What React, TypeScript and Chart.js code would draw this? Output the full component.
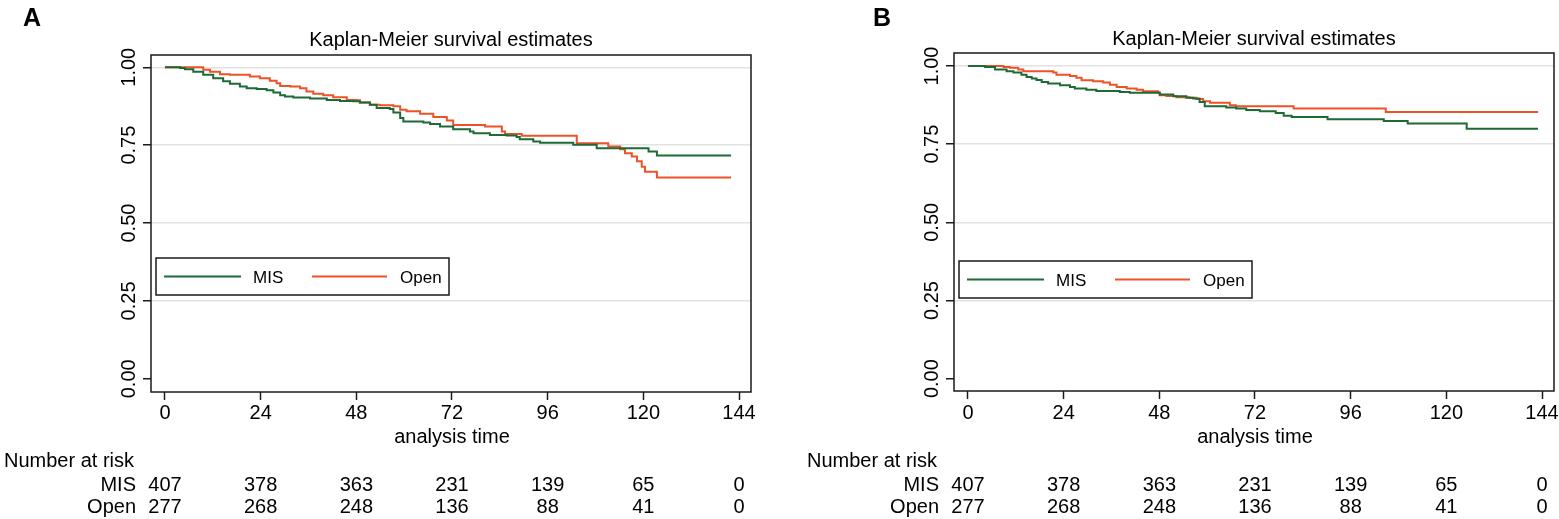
import React, { useEffect, useRef } from 'react';
import { Chart, registerables } from 'chart.js';

Chart.register(...registerables);

const FONT = '"Liberation Sans", Arial, Helvetica, sans-serif';
const MIS_COLOR = '#1d6a36';
const OPEN_COLOR = '#ed5229';

const xTicks = [0, 24, 48, 72, 96, 120, 144];
const yTicks = [0, 0.25, 0.5, 0.75, 1];
const groups = ['MIS', 'Open'];
const riskMis = [407, 378, 363, 231, 139, 65, 0];
const riskOpen = [277, 268, 248, 136, 88, 41, 0];

// panel A
const misTimeA = [0, 3.8, 5, 7.1, 9.6, 12.1, 14.6, 16.3, 18.8, 20.5, 23, 25.5, 27.2, 28.9, 30.1, 32.2, 36.4, 40.6, 43.9, 47.2, 48.9, 51.4, 53.1, 56.4, 57.3, 59, 59.8, 64.8, 66.5, 69, 72.3, 76.5, 77.4, 81.5, 85.7, 88.2, 89, 92.4, 94.1, 102.4, 108.3, 121.3, 123.4, 142];
const misSurvA = [1, 0.998, 0.994, 0.986, 0.976, 0.965, 0.955, 0.947, 0.938, 0.933, 0.93, 0.926, 0.919, 0.91, 0.906, 0.903, 0.9, 0.895, 0.892, 0.891, 0.887, 0.88, 0.869, 0.866, 0.855, 0.837, 0.826, 0.823, 0.818, 0.81, 0.801, 0.794, 0.788, 0.783, 0.781, 0.776, 0.769, 0.762, 0.758, 0.751, 0.74, 0.73, 0.717, 0.717];
const openTimeA = [0, 9.6, 11.3, 13.8, 16.3, 21.3, 23.8, 26.3, 28, 28.9, 31.4, 33.9, 35.5, 37.2, 39.7, 42.2, 45.6, 48.1, 48.9, 51.4, 53.9, 57.3, 59, 60.6, 64, 67.3, 70.7, 72.3, 80.3, 84.5, 85.3, 89.5, 103.3, 111.2, 114.2, 115.4, 117.1, 118.4, 119.6, 120.4, 123.4, 142];
const openSurvA = [1, 0.992, 0.986, 0.978, 0.976, 0.97, 0.965, 0.957, 0.949, 0.94, 0.938, 0.933, 0.922, 0.915, 0.91, 0.904, 0.895, 0.894, 0.887, 0.88, 0.878, 0.875, 0.864, 0.859, 0.851, 0.84, 0.829, 0.815, 0.81, 0.794, 0.786, 0.78, 0.756, 0.746, 0.737, 0.724, 0.714, 0.698, 0.681, 0.665, 0.646, 0.646];

// panel B
const misTimeB = [0, 4.3, 6.8, 9.7, 11.4, 13.4, 14.7, 16, 17.2, 18.5, 20.1, 23.1, 25.6, 26.8, 29.7, 32.2, 38.1, 40.6, 48.1, 51.5, 54.8, 56.5, 58.1, 59.4, 64.8, 67.3, 69.8, 73.2, 77.2, 79.2, 81.2, 90.2, 104.3, 110.3, 125.1, 143];
const misSurvB = [1, 0.997, 0.989, 0.983, 0.979, 0.972, 0.965, 0.96, 0.955, 0.949, 0.944, 0.938, 0.933, 0.928, 0.924, 0.92, 0.917, 0.914, 0.909, 0.903, 0.898, 0.896, 0.885, 0.871, 0.867, 0.864, 0.859, 0.855, 0.85, 0.841, 0.837, 0.83, 0.824, 0.816, 0.799, 0.799];
const openTimeB = [0, 8.9, 10.5, 12.6, 13.9, 21.4, 22.2, 25.6, 27.2, 28.5, 31.4, 33.9, 35.6, 37.3, 39.8, 42.3, 43.9, 47.7, 48.1, 49.8, 52.3, 55.6, 57.3, 59, 60.7, 65.7, 67.2, 81.7, 104.8, 143];
const openSurvB = [1, 0.997, 0.994, 0.989, 0.983, 0.979, 0.972, 0.968, 0.962, 0.954, 0.951, 0.947, 0.94, 0.933, 0.928, 0.924, 0.919, 0.915, 0.906, 0.904, 0.9, 0.898, 0.894, 0.887, 0.882, 0.874, 0.871, 0.864, 0.853, 0.853];

interface PanelProps {
    letter: string;
    left: number;
    width: number;
    letterX: number;
    plotTop: number;
    plotBottom: number;
    yMin: number;
    yMax: number;
    titleBase: number;
    legendTop: number;
    misTime: number[];
    misSurv: number[];
    openTime: number[];
    openSurv: number[];
}

const H = 519;
const PLOT_LEFT = 151;
const PLOT_RIGHT = 751;
const Y_AXIS_W = 50;
const X_AXIS_H = 60;

const KMPanel: React.FC<PanelProps> = (p) => {
    const canvasRef = useRef<HTMLCanvasElement>(null);

    useEffect(() => {
        const ctx = canvasRef.current?.getContext('2d');
        if (!ctx) return;

        const overlay = {
            id: 'kmOverlay',
            afterDraw(chart: Chart) {
                const c = chart.ctx;
                const a = chart.chartArea;
                const xs = chart.scales.x;
                const ys = chart.scales.y;
                const mid = (a.left + a.right) / 2;
                c.save();
                c.strokeStyle = '#1a1a1a';
                c.lineWidth = 1.5;
                c.strokeRect(a.left, a.top, a.right - a.left, a.bottom - a.top);

                c.fillStyle = '#000';
                c.textBaseline = 'alphabetic';
                c.font = `bold 25px ${FONT}`;
                c.textAlign = 'left';
                c.fillText(p.letter, p.letterX, 25.5);

                c.font = `20px ${FONT}`;
                c.textAlign = 'center';
                c.fillText('Kaplan-Meier survival estimates', mid, p.titleBase);

                yTicks.forEach((v) => {
                    c.save();
                    c.translate(135, ys.getPixelForValue(v));
                    c.rotate(-Math.PI / 2);
                    c.fillText(v.toFixed(2), 0, 0);
                    c.restore();
                });
                xTicks.forEach((v) => c.fillText(String(v), xs.getPixelForValue(v), 418.5));
                c.fillText('analysis time', mid + 1, 443);

                c.textAlign = 'left';
                c.fillText('Number at risk', 4, 466.5);
                c.textAlign = 'right';
                c.fillText(groups[0], 136, 491);
                c.fillText(groups[1], 136, 512.5);
                c.textAlign = 'center';
                xTicks.forEach((v, i) => {
                    const px = xs.getPixelForValue(v);
                    c.fillText(String(riskMis[i]), px, 491);
                    c.fillText(String(riskOpen[i]), px, 512.5);
                });

                // legend box inside the plot
                const lx = a.left + 5;
                const ly = p.legendTop;
                c.lineWidth = 1.5;
                c.strokeStyle = '#1a1a1a';
                c.strokeRect(lx, ly, 293, 37);
                const lineY = ly + 18.5;
                c.lineWidth = 2;
                c.strokeStyle = MIS_COLOR;
                c.beginPath();
                c.moveTo(lx + 8, lineY);
                c.lineTo(lx + 85, lineY);
                c.stroke();
                c.strokeStyle = OPEN_COLOR;
                c.beginPath();
                c.moveTo(lx + 156, lineY);
                c.lineTo(lx + 231, lineY);
                c.stroke();
                c.font = `17px ${FONT}`;
                c.textAlign = 'left';
                c.fillText(groups[0], lx + 97, ly + 25);
                c.fillText(groups[1], lx + 244, ly + 25);
                c.restore();
            },
        };

        const chart = new Chart(ctx, {
            type: 'line',
            data: {
                datasets: [
                    {
                        label: groups[0],
                        data: p.misTime.map((t, i) => ({ x: t, y: p.misSurv[i] })),
                        borderColor: MIS_COLOR,
                        borderWidth: 2,
                        pointRadius: 0,
                        stepped: true,
                        fill: false,
                    },
                    {
                        label: groups[1],
                        data: p.openTime.map((t, i) => ({ x: t, y: p.openSurv[i] })),
                        borderColor: OPEN_COLOR,
                        borderWidth: 2,
                        pointRadius: 0,
                        stepped: true,
                        fill: false,
                    },
                ],
            },
            options: {
                animation: false,
                responsive: false,
                layout: {
                    padding: {
                        left: PLOT_LEFT - Y_AXIS_W,
                        right: p.width - PLOT_RIGHT,
                        top: p.plotTop,
                        bottom: H - p.plotBottom - X_AXIS_H,
                    },
                },
                plugins: {
                    legend: { display: false },
                    title: { display: false },
                    tooltip: { enabled: false },
                },
                scales: {
                    x: {
                        type: 'linear',
                        min: -3.5,
                        max: 147,
                        border: { display: false },
                        ticks: { display: false },
                        grid: {
                            drawOnChartArea: false,
                            drawTicks: true,
                            tickLength: 8,
                            tickColor: '#1a1a1a',
                            tickWidth: 1.5,
                        },
                        afterBuildTicks: (s: any) => {
                            s.ticks = xTicks.map((value) => ({ value }));
                        },
                        afterFit: (s: any) => {
                            s.height = X_AXIS_H;
                        },
                    },
                    y: {
                        type: 'linear',
                        min: p.yMin,
                        max: p.yMax,
                        border: { display: false },
                        ticks: { display: false },
                        grid: {
                            color: (g: any) => (g.tick && g.tick.value === 0 ? 'rgba(0,0,0,0)' : '#e2e2e2'),
                            lineWidth: 1.5,
                            drawTicks: true,
                            tickLength: 8,
                            tickColor: '#1a1a1a',
                            tickWidth: 1.5,
                        },
                        afterBuildTicks: (s: any) => {
                            s.ticks = yTicks.map((value) => ({ value }));
                        },
                        afterFit: (s: any) => {
                            s.width = Y_AXIS_W;
                        },
                    },
                },
            },
            plugins: [overlay],
        });

        return () => {
            chart.destroy();
        };
    }, [p]);

    return (
        <canvas
            ref={canvasRef}
            width={p.width}
            height={H}
            style={{ position: 'absolute', left: p.left, top: 0, width: p.width, height: H, display: 'block' }}
        />
    );
};

const panelA: PanelProps = {
    letter: 'A', left: 0, width: 780, letterX: 23,
    plotTop: 55, plotBottom: 392, yMin: -0.0423, yMax: 1.0394,
    titleBase: 45.5, legendTop: 258,
    misTime: misTimeA, misSurv: misSurvA, openTime: openTimeA, openSurv: openSurvA,
};

const panelB: PanelProps = {
    letter: 'B', left: 803, width: 756, letterX: 70,
    plotTop: 53, plotBottom: 391, yMin: -0.0395, yMax: 1.0415,
    titleBase: 44.5, legendTop: 261,
    misTime: misTimeB, misSurv: misSurvB, openTime: openTimeB, openSurv: openSurvB,
};

export default function App() {
    return (
        <div style={{ position: 'absolute', left: 0, top: 0, width: 1559, height: H, background: '#fff', overflow: 'hidden' }}>
            <KMPanel {...panelA} />
            <KMPanel {...panelB} />
        </div>
    );
}
